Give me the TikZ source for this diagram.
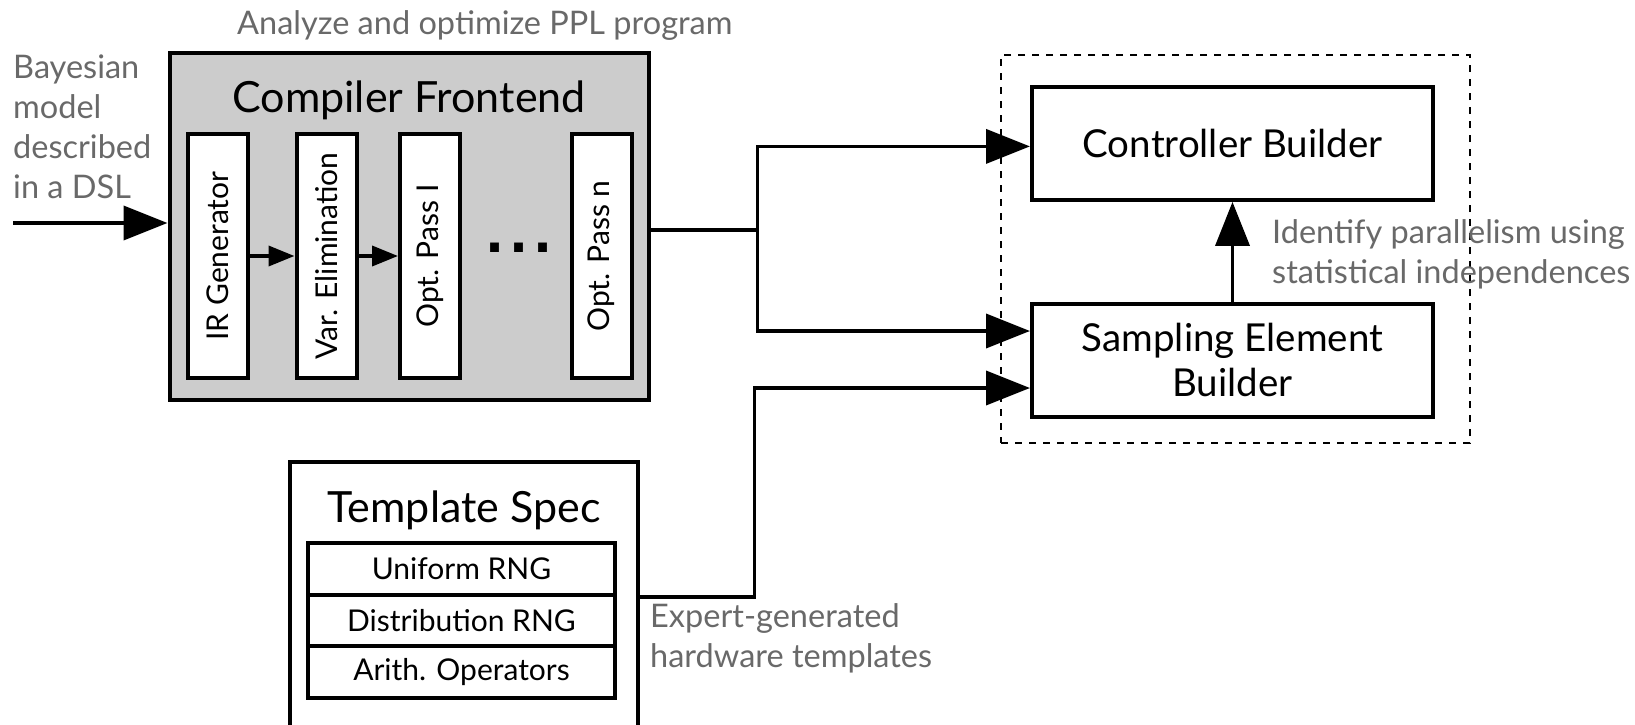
\documentclass[tikz,border=0pt]{standalone}
\usepackage{fontspec}
\setmainfont{Lato}
\newfontfamily\dotfont{DejaVu Sans}
\usetikzlibrary{arrows.meta,calc}
\definecolor{notegray}{RGB}{105,105,105}
\definecolor{panelgray}{RGB}{204,204,204}
\tikzset{
  box/.style={draw=black, line width=4pt, fill=white, inner sep=0pt},
  stagebox/.style={box, minimum width=60pt, minimum height=244pt, font=\fontsize{30}{36}\selectfont},
  rowbox/.style={box, minimum width=307pt, minimum height=51.7pt, font=\fontsize{30}{36}\selectfont},
  builder/.style={box, minimum width=401pt, minimum height=113pt, align=center, font=\fontsize{38.5}{45}\selectfont},
  heading/.style={inner sep=0pt, anchor=base, font=\fontsize{43}{50}\selectfont},
  note/.style={text=notegray, inner sep=0pt, align=left, anchor=base west, font=\fontsize{32.5}{40}\selectfont},
  wire/.style={line width=3.7pt},
  bigarrow/.style={wire, -{Triangle[length=44pt,width=34pt]}},
  smallarrow/.style={wire, -{Triangle[length=26pt,width=20pt]}},
}
\begin{document}
\begin{tikzpicture}[x=1pt,y=-1pt]
\useasboundingbox (0,0) rectangle (1635,725);

% compiler frontend with its passes
\node[box, fill=panelgray, minimum width=479pt, minimum height=347pt] (cf) at (409,226.5) {};
\node[heading] (cftitle) at (409,112) {Compiler Frontend};
\node[note] (cfnote) at (237,35) {Analyze and optimize PPL program};
\node[stagebox] (irgen) at (218,256) {\rotatebox{90}{IR Generator}};
\node[stagebox] (varelim) at (326.5,256) {\rotatebox{90}{Var. Elimination}};
\node[stagebox] (pass1) at (430,256) {\rotatebox{90}{Opt. Pass I}};
\node[stagebox] (passn) at (601.5,256) {\rotatebox{90}{Opt. Pass n}};
\node[inner sep=0pt, anchor=base, font=\dotfont\fontsize{50}{50}\selectfont\bfseries] (dots) at (519,252.5) {.\hspace{5pt}.\hspace{5pt}.};
\draw[smallarrow] (irgen) -- (varelim);
\draw[smallarrow] (varelim) -- (pass1);

% model input (the base anchor of a multi-line note is its last line)
\node[note] (input) at (13,198) {Bayesian\\model\\described\\in a DSL};
\coordinate (src) at (13,223);
\draw[bigarrow] (src) -- (cf.west |- src);

% hardware builders
\node[draw, line width=1.5pt, dash pattern=on 7pt off 7pt, minimum width=469pt, minimum height=388pt, inner sep=0pt] (group) at (1235.5,249) {};
\node[builder] (ctrl) at (1232.5,143.4) {Controller Builder};
\node[builder] (samp) at (1232.5,360) {Sampling Element\\Builder};
\draw[bigarrow] (samp) -- (ctrl);
\node[note] (parnote) at (1272,283) {Identify parallelism using\\statistical independences};

% y grows downwards here, so +3.5 is 3.5pt below the east anchor
\coordinate (split) at ($(cf.east)+(107,3.5)$);
\draw[wire] (cf.east |- split) -- (split);
\draw[bigarrow] (split) |- ([yshift=-3pt]ctrl.west);
\draw[bigarrow] (split) |- ([yshift=29pt]samp.west);

% template library
\node[box, minimum width=347.5pt, minimum height=300pt] (tpl) at (463.75,612) {};
\node[heading] (tpltitle) at (464,522) {Template Spec};
\node[rowbox] (rng) at (461.5,568.85) {Uniform RNG};
\node[rowbox] (dist) at (461.5,620.55) {Distribution RNG};
\node[rowbox] (arith) at (461.5,672.25) {Arith. Operators};
\node[note] (tplnote) at (650,667) {Expert-generated\\hardware templates};
\draw[bigarrow] (tpl.east |- rng.south) -- ++(115,0) |- ([yshift=-28pt]samp.west);
\end{tikzpicture}
\end{document}
